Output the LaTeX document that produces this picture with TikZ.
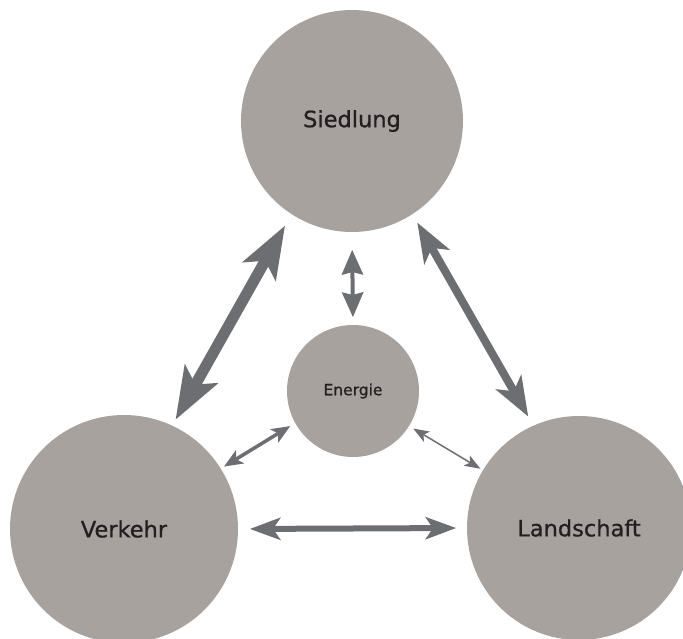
\documentclass[tikz,border=0pt]{standalone}
\usepackage{fontspec}
\setmainfont{DejaVu Sans}
\newfontfamily\labelfont{DejaVu Sans}[FakeBold=0.8]
\usetikzlibrary{arrows.meta}
\definecolor{disc}{HTML}{A8A29F}
\definecolor{pfeil}{HTML}{6D6E71}
\definecolor{schrift}{HTML}{231F20}

\begin{document}
\begin{tikzpicture}[x=1pt, y=-1pt,
  field/.style={circle, fill=disc, inner sep=0pt, outer sep=0pt, text=schrift,
                font=\labelfont\fontsize{22.5}{27}\selectfont},
  core/.style={field, font=\labelfont\fontsize{15.5}{19}\selectfont},
  flow/.style n args={4}{draw=pfeil, line width=#1,
                >={Stealth[length=#2, width=#3, inset=#4, line width=0pt]}, <->}
]
  \useasboundingbox (0,0) rectangle (683,639);

  \node[field, minimum size=222pt] (sied) at (352,121) {Siedlung};
  \node[field, minimum size=228pt] (verk) at (124,529) {Verkehr};
  \node[field, minimum size=224pt] (land) at (579,528) {Landschaft};
  \node[core, minimum size=132pt] (ener) at (353,391) {Energie};

  \draw[flow={11pt}{53pt}{39pt}{13pt}, shorten <=13.6pt, shorten >=7.2pt] (sied.237.5) -- (verk.65.1);
  \draw[flow={8pt}{40pt}{30pt}{11pt}, shorten <=10pt, shorten >=10.7pt] (sied.-57.5) -- (land.114.1);
  \draw[flow={4pt}{25pt}{22pt}{3pt}, shorten <=18pt, shorten >=8pt] (sied.-90) -- (ener.90);
  \draw[flow={3.5pt}{19pt}{16pt}{5pt}, shorten <=4pt, shorten >=6pt] (verk.32.8) -- (ener.209.1);
  \draw[flow={1.5pt}{16pt}{12pt}{4pt}, shorten <=5pt, shorten >=3pt] (ener.-32.3) -- (land.149.2);
  \draw[flow={6pt}{31pt}{23pt}{8pt}, shorten <=12pt, shorten >=11pt] (verk.-0.5) -- (land.180.5);
\end{tikzpicture}
\end{document}
